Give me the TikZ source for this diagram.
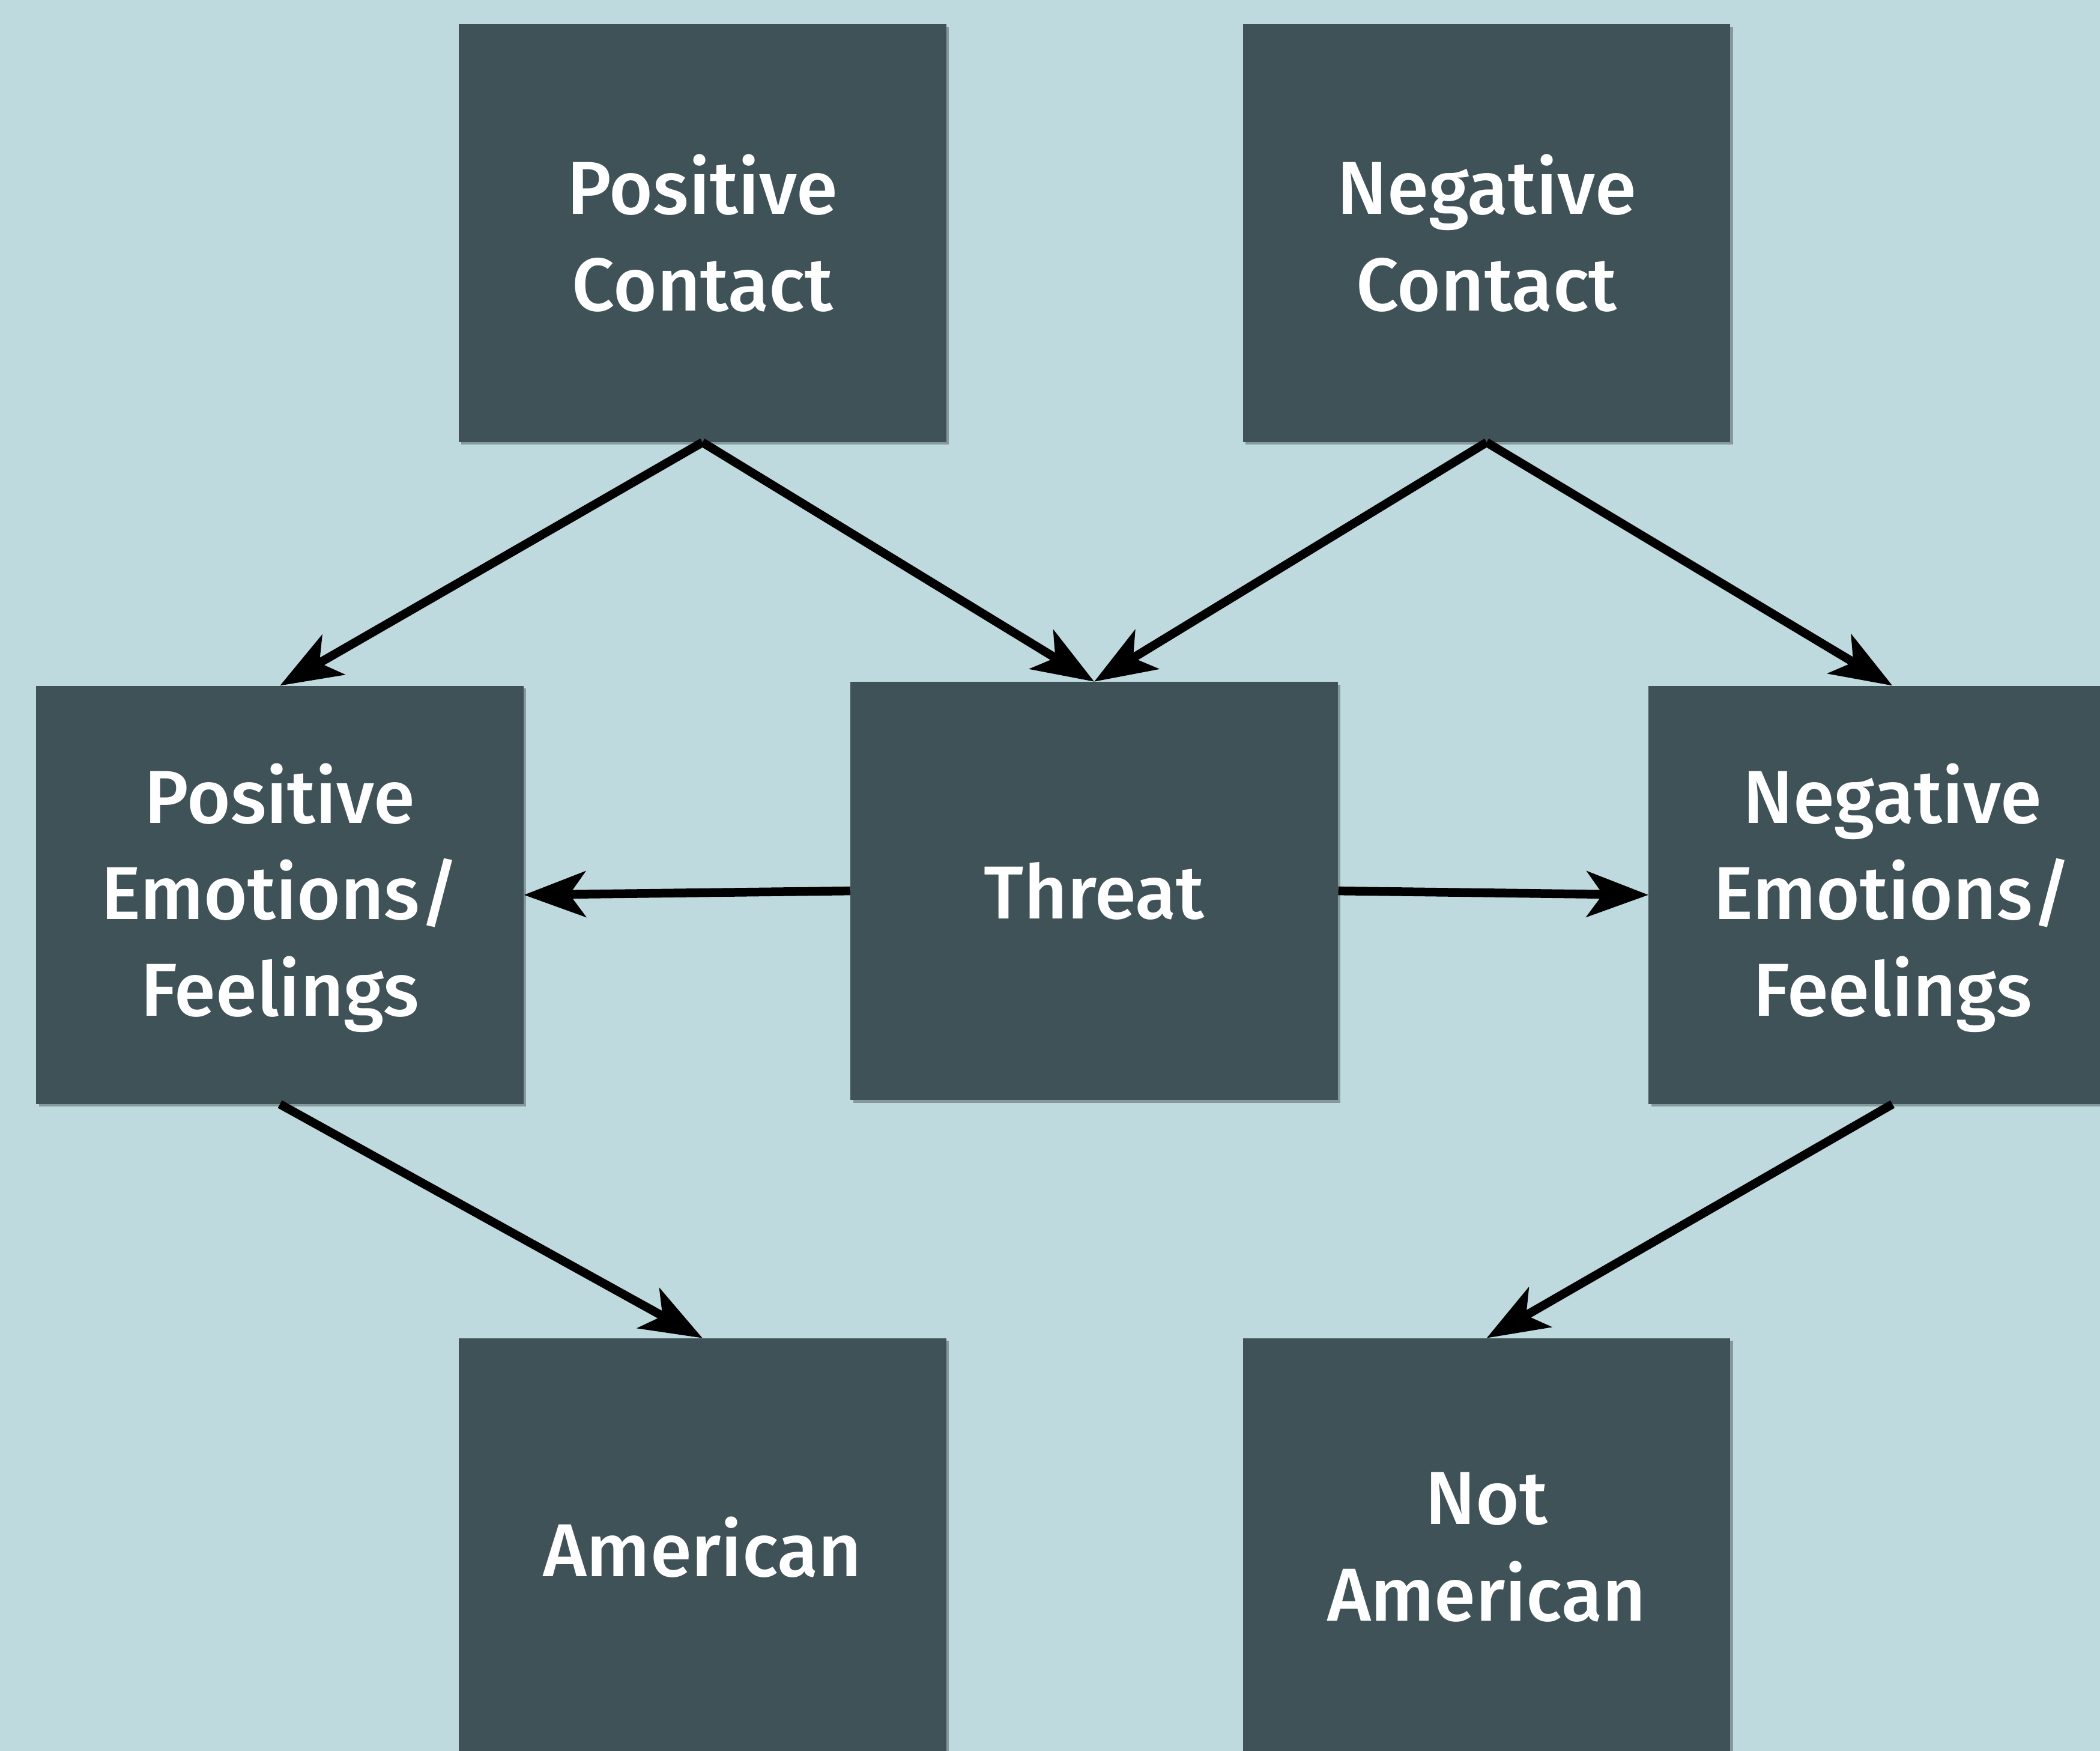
\documentclass[tikz,border=0pt]{standalone}
\usepackage{fontspec}
\IfFontExistsTF{Fira Sans Medium}{\newfontfamily\lblfont{Fira Sans Medium}}{\newfontfamily\lblfont{Fira Sans}[FakeBold=1]}
\usetikzlibrary{arrows.meta,shadows}
\definecolor{bgc}{RGB}{191,218,223}
\definecolor{boxc}{RGB}{63,82,87}
\tikzset{
 box/.style={fill=boxc, minimum width=364pt, minimum height=312pt, inner sep=0pt,
   text=white, align=center, font=\lblfont\fontsize{56}{72}\selectfont,
   drop shadow={shadow xshift=2pt, shadow yshift=-2pt, opacity=0.3, fill=black}},
 conn/.style={line width=6.5pt, draw=black, -{Stealth[length=46pt,width=34pt,inset=12pt]}}
}
\newcommand{\topfix}{\rule{0pt}{49pt}}
\begin{document}
\begin{tikzpicture}[x=1pt,y=-1pt]
\useasboundingbox (0,0) rectangle (1568,1307);
\clip (0,0) rectangle (1568,1307);
\fill[bgc] (0,0) rectangle (1568,1307);
\node[box] (pc) at (524.5,174) {Positive\\Contact};
\node[box] (nc) at (1110,174) {Negative\\Contact};
\node[box] (pe) at (209,668) {\topfix Positive\\Emotions/\\Feelings};
\node[box] (th) at (817,665) {Threat};
\node[box] (ne) at (1413,668) {\topfix Negative\\Emotions/\\Feelings};
\node[box] (am) at (524.5,1155) {American};
\node[box] (na) at (1110,1155) {Not\\American};
\draw[conn] (pc.south) -- (pe.north);
\draw[conn] (pc.south) -- (th.north);
\draw[conn] (nc.south) -- (th.north);
\draw[conn] (nc.south) -- (ne.north);
\draw[conn] (th.west) -- (pe.east);
\draw[conn] (th.east) -- (ne.west);
\draw[conn] (pe.south) -- (am.north);
\draw[conn] (ne.south) -- (na.north);
\end{tikzpicture}
\end{document}
